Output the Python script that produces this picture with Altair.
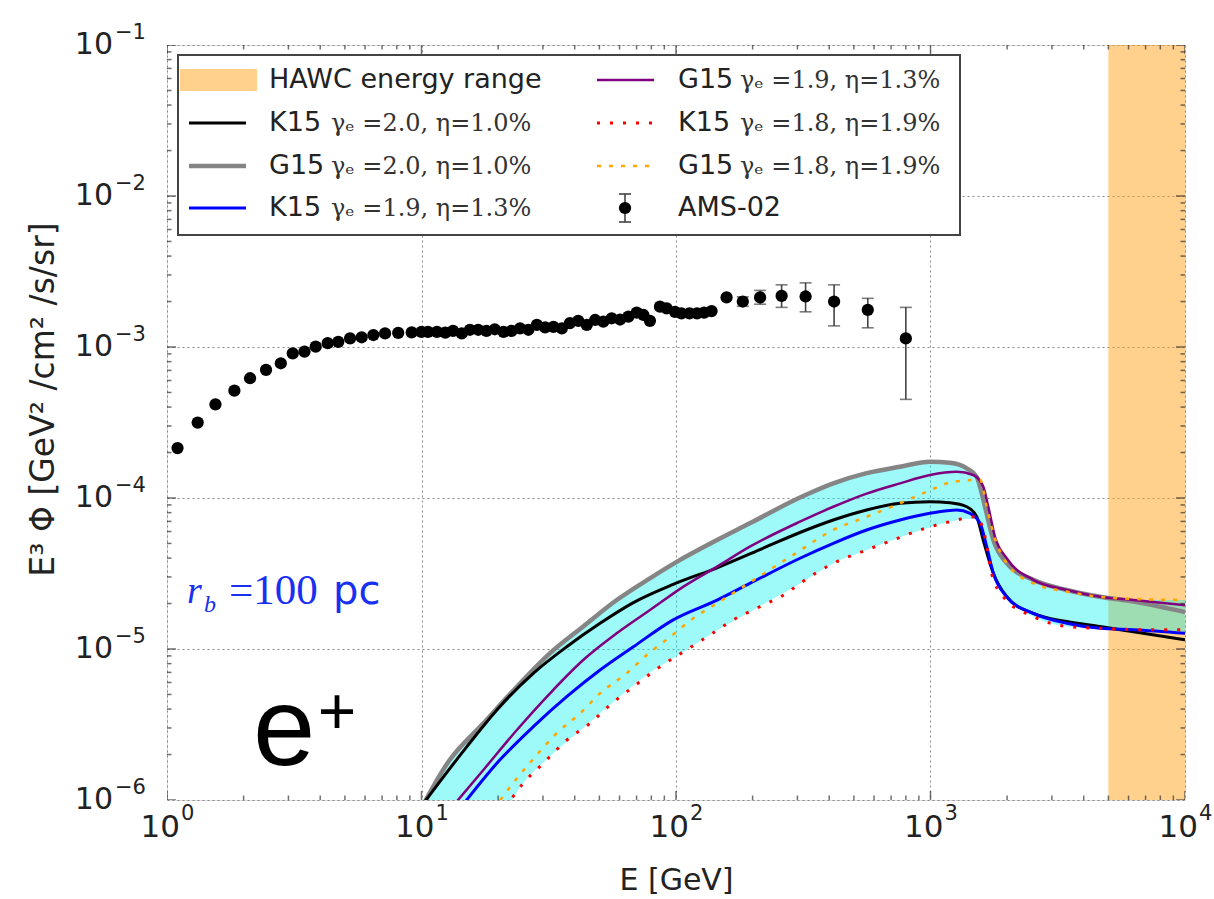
import altair as alt
import pandas as pd

# ---------------- data ----------------
ams_E = [1.10, 1.32, 1.55, 1.84, 2.12, 2.45, 2.80, 3.12, 3.47, 3.84, 4.28, 4.71, 5.24, 5.82, 6.47,
         7.19, 8.10, 9.15, 10.0, 10.6, 11.5, 12.4, 13.3, 14.4, 15.5, 16.7, 18.0, 19.4, 21.0, 22.6,
         24.4, 26.3, 28.4, 30.6, 33.0, 35.6, 38.3, 41.3, 44.6, 48.1, 51.8, 55.9, 60.3, 65.0, 70.1,
         74.5, 79.0, 86.5, 91.9, 99.1, 105, 113, 121, 129, 138, 158, 183, 214, 260, 323, 418, 567, 800]
ams_v = [2.14e-4, 3.16e-4, 4.17e-4, 5.14e-4, 6.21e-4, 7.05e-4, 7.80e-4, 9.08e-4, 9.31e-4, 1.005e-3,
         1.06e-3, 1.08e-3, 1.14e-3, 1.16e-3, 1.20e-3, 1.23e-3, 1.24e-3, 1.25e-3, 1.26e-3,
         1.26e-3, 1.26e-3, 1.245e-3, 1.28e-3, 1.23e-3, 1.30e-3, 1.30e-3, 1.28e-3, 1.31e-3, 1.26e-3,
         1.28e-3, 1.33e-3, 1.30e-3, 1.40e-3, 1.35e-3, 1.36e-3, 1.33e-3, 1.44e-3, 1.49e-3, 1.40e-3,
         1.51e-3, 1.47e-3, 1.55e-3, 1.52e-3, 1.59e-3, 1.69e-3, 1.63e-3, 1.49e-3,
         1.85e-3, 1.80e-3, 1.71e-3, 1.67e-3, 1.67e-3, 1.67e-3, 1.69e-3, 1.73e-3,
         2.13e-3, 2.00e-3, 2.13e-3, 2.18e-3, 2.16e-3, 2.00e-3, 1.76e-3, 1.14e-3]
err_E = [183, 214, 260, 323, 418, 567, 800]
err_lo = [1.86e-3, 1.92e-3, 1.83e-3, 1.71e-3, 1.38e-3, 1.34e-3, 4.5e-4]
err_hi = [2.15e-3, 2.37e-3, 2.58e-3, 2.66e-3, 2.58e-3, 2.10e-3, 1.83e-3]

k15_20_E = [9.87, 15.05, 20.3, 27.5, 37.2, 50.3, 68.0, 97.5, 145, 227, 307, 415, 561, 759, 995, 1193,
            1388, 1519, 1611, 1766, 1992, 2535, 3430, 4636, 6268, 10000]
k15_20_v = [8.85e-7, 2.25e-6, 4.15e-6, 6.90e-6, 1.035e-5, 1.48e-5, 2.03e-5, 2.68e-5, 3.45e-5, 4.76e-5,
            5.91e-5, 7.15e-5, 8.33e-5, 9.23e-5, 9.45e-5, 9.30e-5, 8.75e-5, 7.51e-5, 5.27e-5, 3.17e-5,
            2.22e-5, 1.72e-5, 1.52e-5, 1.41e-5, 1.30e-5, 1.15e-5]

g15_20_E = [9.0, 12.9, 17.5, 23.7, 32.0, 43.2, 58.5, 79.0, 101, 145, 195, 307, 415, 561, 759, 995, 1193,
            1388, 1519, 1637, 1766, 1992, 2535, 3430, 4636, 6268, 10000]
g15_20_v = [6.3e-7, 1.84e-6, 3.22e-6, 5.62e-6, 9.38e-6, 1.41e-5, 2.11e-5, 2.94e-5, 3.79e-5, 5.27e-5,
            6.80e-5, 1.007e-4, 1.25e-4, 1.46e-4, 1.61e-4, 1.74e-4, 1.71e-4, 1.57e-4, 1.38e-4, 8.75e-5,
            5.27e-5, 3.70e-5, 2.87e-5, 2.46e-5, 2.22e-5, 2.06e-5, 1.76e-5]

k15_19_E = [13.8, 20.3, 27.5, 37.2, 50.3, 68.0, 97.5, 145, 195, 307, 415, 561, 759, 995, 1268, 1430,
            1566, 1663, 1766, 1992, 2535, 3430, 4636, 6268, 10000]
k15_19_v = [8.3e-7, 1.84e-6, 3.06e-6, 4.83e-6, 7.26e-6, 1.035e-5, 1.56e-5, 2.11e-5, 2.72e-5, 3.99e-5,
            5.01e-5, 6.14e-5, 7.15e-5, 7.92e-5, 8.33e-5, 7.92e-5, 6.80e-5, 4.76e-5, 3.17e-5, 2.22e-5,
            1.72e-5, 1.48e-5, 1.37e-5, 1.34e-5, 1.27e-5]

g15_19_E = [12.9, 17.5, 23.7, 32.0, 43.2, 58.5, 79.0, 107, 145, 195, 307, 415, 561, 759, 995, 1268,
            1472, 1611, 1687, 1792, 1992, 2535, 3430, 4636, 6268, 10000]
g15_19_v = [8.6e-7, 1.58e-6, 2.91e-6, 5.09e-6, 8.45e-6, 1.27e-5, 1.81e-5, 2.59e-5, 3.51e-5, 4.76e-5,
            6.97e-5, 8.75e-5, 1.07e-4, 1.25e-4, 1.42e-4, 1.49e-4, 1.42e-4, 1.19e-4, 8.75e-5, 5.54e-5,
            3.99e-5, 2.87e-5, 2.46e-5, 2.22e-5, 2.11e-5, 1.95e-5]

k15_18_E = [21.3, 25.1, 30.1, 37.2, 45.9, 55.1, 68.0, 86.5, 107, 136, 168, 214, 272, 307, 415, 561, 714,
            909, 1193, 1519, 1637, 1738, 1932, 2535, 3430, 4636, 7280, 10000]
k15_18_v = [8.85e-7, 1.29e-6, 1.75e-6, 2.49e-6, 3.22e-6, 4.26e-6, 5.62e-6, 7.63e-6, 9.59e-6, 1.24e-5,
            1.56e-5, 1.91e-5, 2.34e-5, 2.72e-5, 3.69e-5, 4.53e-5, 5.27e-5, 6.14e-5, 6.97e-5, 7.51e-5,
            5.54e-5, 3.17e-5, 2.22e-5, 1.64e-5, 1.41e-5, 1.37e-5, 1.34e-5, 1.34e-5]

g15_18_E = [19.1, 23.7, 28.4, 34.0, 42.0, 50.3, 64.0, 76.7, 94.7, 117, 145, 184, 289, 415, 561, 759, 966,
            1230, 1566, 1663, 1766, 1992, 2535, 3430, 5395, 10000]
g15_18_v = [8.6e-7, 1.39e-6, 1.99e-6, 2.77e-6, 3.75e-6, 5.09e-6, 6.90e-6, 9.12e-6, 1.20e-5, 1.60e-5,
            2.01e-5, 2.59e-5, 4.20e-5, 6.14e-5, 7.51e-5, 9.23e-5, 1.10e-4, 1.28e-4, 1.32e-4, 8.75e-5,
            5.83e-5, 3.70e-5, 2.72e-5, 2.40e-5, 2.17e-5, 2.11e-5]

band_E = [9.0, 12.9, 17.5, 23.7, 32.0, 43.2, 58.5, 79.0, 101, 145, 195, 307, 415, 561, 759, 995, 1193,
          1388, 1519, 1637, 1766, 1992, 2535, 3430, 4636, 6268, 10000]
band_hi = [6.3e-7, 1.84e-6, 3.22e-6, 5.62e-6, 9.38e-6, 1.41e-5, 2.11e-5, 2.94e-5, 3.79e-5, 5.27e-5,
           6.80e-5, 1.007e-4, 1.25e-4, 1.46e-4, 1.61e-4, 1.74e-4, 1.71e-4, 1.57e-4, 1.40e-4, 1.0e-4,
           5.83e-5, 4.0e-5, 2.87e-5, 2.46e-5, 2.22e-5, 2.11e-5, 2.11e-5]
band_lo = [1.0e-8, 1.0e-7, 4.0e-7, 1.13e-6, 1.95e-6, 3.0e-6, 4.65e-6, 7.0e-6, 9.0e-6, 1.33e-5, 1.76e-5,
           2.72e-5, 3.69e-5, 4.53e-5, 5.5e-5, 6.4e-5, 6.97e-5, 7.3e-5, 7.2e-5, 4.8e-5, 3.17e-5, 2.2e-5,
           1.64e-5, 1.41e-5, 1.37e-5, 1.34e-5, 1.27e-5]

hawc_E = [5000, 10000]

x_tick_values = [1, 10, 100, 1000, 10000]
x_tick_exps = ["0", "1", "2", "3", "4"]
y_tick_values = [1e-6, 1e-5, 1e-4, 1e-3, 1e-2, 1e-1]
y_tick_exps = ["−6", "−5", "−4", "−3", "−2", "−1"]
x_minor = [m * 10 ** d for d in range(4) for m in range(2, 10)]
y_minor = [m * 10.0 ** d for d in range(-6, -1) for m in range(2, 10)]

legend_names = ["HAWC energy range", "K15", "G15", "K15", "G15", "K15", "G15", "AMS-02"]
legend_formulas = ["", "γₑ =2.0, η=1.0%", "γₑ =2.0, η=1.0%", "γₑ =1.9, η=1.3%",
                   "γₑ =1.9, η=1.3%", "γₑ =1.8, η=1.9%", "γₑ =1.8, η=1.9%", ""]

# ---------------- layout / style ----------------
W, H = 1018, 755
SANS = "DejaVu Sans"
SERIF = "DejaVu Serif"
TXT = "#222"

xs = alt.Scale(type="log", domain=[1, 1e4], nice=False)
ys = alt.Scale(type="log", domain=[1e-6, 1e-1], nice=False)

xaxis = alt.Axis(values=x_tick_values, labels=False, title="E [GeV]",
                 grid=True, gridDash=[2, 3], gridColor="#8a8a8a", gridWidth=1, ticks=False,
                 domain=False, titleFont=SANS, titleFontSize=30,
                 titleFontWeight="normal", titleColor=TXT, titleY=80, titleBaseline="middle")
yaxis = alt.Axis(values=y_tick_values, labels=False,
                 title="E³ Φ [GeV² /cm² /s/sr]", grid=True, gridDash=[2, 3], gridColor="#8a8a8a",
                 gridWidth=1, ticks=False, domain=False,
                 titleFont=SANS, titleFontSize=33, titleFontWeight="normal", titleColor=TXT,
                 titleX=-124, titleY=354, titleAngle=270, titleAlign="center",
                 titleBaseline="middle")


def X(f):
    return alt.X(f, type="quantitative", scale=xs, axis=xaxis)


def Y(f):
    return alt.Y(f, type="quantitative", scale=ys, axis=yaxis)


def Y2(f):
    return alt.Y2(f)


one = pd.DataFrame({"k": [0]})
layers = []

# HAWC band
hawc_df = pd.DataFrame({"E": [hawc_E[0]], "E2": [hawc_E[1]]})
layers.append(alt.Chart(hawc_df).mark_rect(color="#FFA319", opacity=0.5, clip=True).encode(
    x=X("E"), x2=alt.X2("E2"), y=alt.value(0), y2=alt.value(H)))

# model band
band_df = pd.DataFrame({"E": band_E, "lo": band_lo, "hi": band_hi})
layers.append(alt.Chart(band_df).mark_area(color="#00F0F0", opacity=0.38, clip=True,
                                           interpolate="monotone", orient="vertical").encode(
    x=X("E"), y=Y("lo"), y2=Y2("hi")))

curves = [
    (g15_20_E, g15_20_v, "#858585", 4.5, None),
    (k15_20_E, k15_20_v, "#000000", 3, None),
    (g15_19_E, g15_19_v, "#800080", 2.5, None),
    (k15_19_E, k15_19_v, "#0000FF", 3, None),
    (k15_18_E, k15_18_v, "#FF0000", 3, [3, 10]),
    (g15_18_E, g15_18_v, "#FFA500", 2.5, [4, 8]),
]
for Es, vs, col, wdt, dash in curves:
    kw = dict(color=col, strokeWidth=wdt, clip=True, interpolate="monotone")
    if dash:
        kw["strokeDash"] = dash
    df = pd.DataFrame({"E": Es, "v": vs})
    layers.append(alt.Chart(df).mark_line(**kw).encode(x=X("E"), y=Y("v")))

# AMS-02 error bars and points
err_df = pd.DataFrame({"E": err_E, "lo": err_lo, "hi": err_hi})
layers.append(alt.Chart(err_df).mark_rule(color="#444", strokeWidth=1.6).encode(
    x=X("E"), y=Y("lo"), y2=Y2("hi")))
layers.append(alt.Chart(err_df).mark_tick(color="#444", orient="horizontal", size=12,
                                          thickness=1.6).encode(x=X("E"), y=Y("lo")))
layers.append(alt.Chart(err_df).mark_tick(color="#444", orient="horizontal", size=12,
                                          thickness=1.6).encode(x=X("E"), y=Y("hi")))
ams_df = pd.DataFrame({"E": ams_E, "v": ams_v})
layers.append(alt.Chart(ams_df).mark_circle(color="#000", opacity=1, size=150).encode(
    x=X("E"), y=Y("v")))

# inward ticks
xmaj = pd.DataFrame({"E": x_tick_values})
xmin = pd.DataFrame({"E": x_minor})
ymaj = pd.DataFrame({"v": y_tick_values})
ymin = pd.DataFrame({"v": y_minor})
for df, sz in ((xmaj, 18), (xmin, 9)):
    for yy in (0, H):
        layers.append(alt.Chart(df).mark_tick(orient="vertical", size=sz, thickness=1.5,
                                              color="#333", clip=True).encode(
            x=X("E"), y=alt.value(yy)))
for df, sz in ((ymaj, 18), (ymin, 9)):
    for xx in (0, W):
        layers.append(alt.Chart(df).mark_tick(orient="horizontal", size=sz, thickness=1.5,
                                              color="#333", clip=True).encode(
            y=Y("v"), x=alt.value(xx)))

# tick labels (base 10 with a raised exponent)
xl_df = pd.DataFrame({"E": x_tick_values, "base": ["10"] * len(x_tick_values), "exp": x_tick_exps})
layers.append(alt.Chart(xl_df).mark_text(font=SANS, fontSize=31, color=TXT, align="right",
                                         baseline="middle", dx=13).encode(
    x=X("E"), y=alt.value(H + 28), text="base:N"))
layers.append(alt.Chart(xl_df).mark_text(font=SANS, fontSize=21, color=TXT, align="left",
                                         baseline="middle", dx=14).encode(
    x=X("E"), y=alt.value(H + 14), text="exp:N"))
yl_df = pd.DataFrame({"v": y_tick_values, "base": ["10"] * len(y_tick_values), "exp": y_tick_exps})
layers.append(alt.Chart(yl_df).mark_text(font=SANS, fontSize=30, color=TXT, align="right",
                                         baseline="middle").encode(
    y=Y("v"), x=alt.value(-54), text="base:N"))
layers.append(alt.Chart(yl_df).mark_text(font=SANS, fontSize=21, color=TXT, align="left",
                                         baseline="middle", dy=-12).encode(
    y=Y("v"), x=alt.value(-52), text="exp:N"))

# legend box
layers.append(alt.Chart(one).mark_rect(fill="white", stroke="#444", strokeWidth=2).encode(
    x=alt.value(11), x2=alt.value(793), y=alt.value(10), y2=alt.value(190)))
rows = [35, 78, 121, 163]
layers.append(alt.Chart(one).mark_rect(color="#FFA319", opacity=0.5).encode(
    x=alt.value(13), x2=alt.value(90), y=alt.value(rows[0] - 11), y2=alt.value(rows[0] + 11)))
leg_lines = [
    (22, 79, rows[1], "#000000", 3, None),
    (22, 79, rows[2], "#858585", 4.5, None),
    (22, 79, rows[3], "#0000FF", 3, None),
    (430, 487, rows[0], "#800080", 2.5, None),
    (430, 487, rows[1], "#FF0000", 3, [3, 10]),
    (430, 487, rows[2], "#FFA500", 2.5, [4, 8]),
]
for x1, x2, yy, col, wdt, dash in leg_lines:
    kw = dict(color=col, strokeWidth=wdt)
    if dash:
        kw["strokeDash"] = dash
    layers.append(alt.Chart(one).mark_rule(**kw).encode(
        x=alt.value(x1), x2=alt.value(x2), y=alt.value(yy)))
layers.append(alt.Chart(one).mark_rule(color="#444", strokeWidth=1.6).encode(
    x=alt.value(458), y=alt.value(rows[3] - 14), y2=alt.value(rows[3] + 14)))
for dy in (-14, 14):
    layers.append(alt.Chart(one).mark_rule(color="#444", strokeWidth=1.6).encode(
        x=alt.value(452), x2=alt.value(464), y=alt.value(rows[3] + dy)))
layers.append(alt.Chart(one).mark_circle(color="#000", opacity=1, size=150).encode(
    x=alt.value(458), y=alt.value(rows[3])))

name_pos = [(102, rows[0]), (102, rows[1]), (102, rows[2]), (102, rows[3]),
            (511, rows[0]), (511, rows[1]), (511, rows[2]), (511, rows[3])]
for (px, py), nm, fm in zip(name_pos, legend_names, legend_formulas):
    layers.append(alt.Chart(one).mark_text(text=nm, font=SANS, fontSize=27, color=TXT,
                                           align="left", baseline="middle").encode(
        x=alt.value(px), y=alt.value(py)))
    if fm:
        layers.append(alt.Chart(one).mark_text(text=fm, font=SERIF, fontSize=24, color="#333",
                                               align="left", baseline="middle").encode(
            x=alt.value(px + 62), y=alt.value(py + 1)))

# annotations
BLUE = "#1a30f0"
layers.append(alt.Chart(one).mark_text(text="r", font="Liberation Serif", fontStyle="italic",
                                       fontSize=38, color=BLUE, align="left",
                                       baseline="alphabetic").encode(
    x=alt.value(20), y=alt.value(558)))
layers.append(alt.Chart(one).mark_text(text="b", font="Liberation Serif", fontStyle="italic",
                                       fontSize=24, color=BLUE, align="left",
                                       baseline="alphabetic").encode(
    x=alt.value(37), y=alt.value(567)))
layers.append(alt.Chart(one).mark_text(text="=100", font="Liberation Serif", fontSize=43,
                                       color=BLUE, align="left", baseline="alphabetic").encode(
    x=alt.value(62), y=alt.value(559)))
layers.append(alt.Chart(one).mark_text(text="pc", font=SANS, fontSize=40, color=BLUE,
                                       align="left", baseline="alphabetic").encode(
    x=alt.value(166), y=alt.value(559)))
layers.append(alt.Chart(one).mark_text(text="e", font="Liberation Sans", fontSize=112,
                                       color="#000", align="left", baseline="alphabetic").encode(
    x=alt.value(86), y=alt.value(720)))
layers.append(alt.Chart(one).mark_text(text="+", font="Liberation Sans", fontSize=66,
                                       color="#000", align="center", baseline="alphabetic").encode(
    x=alt.value(170), y=alt.value(689)))

chart = alt.layer(*layers).properties(
    width=W, height=H,
    padding={"left": 167, "top": 45, "right": 29, "bottom": 99},
    autosize=alt.AutoSizeParams(type="none"),
).configure_view(stroke="#222", strokeWidth=2.2).configure(background="white")

chart.save("out.html", embed_options={"renderer": "svg", "actions": False})
